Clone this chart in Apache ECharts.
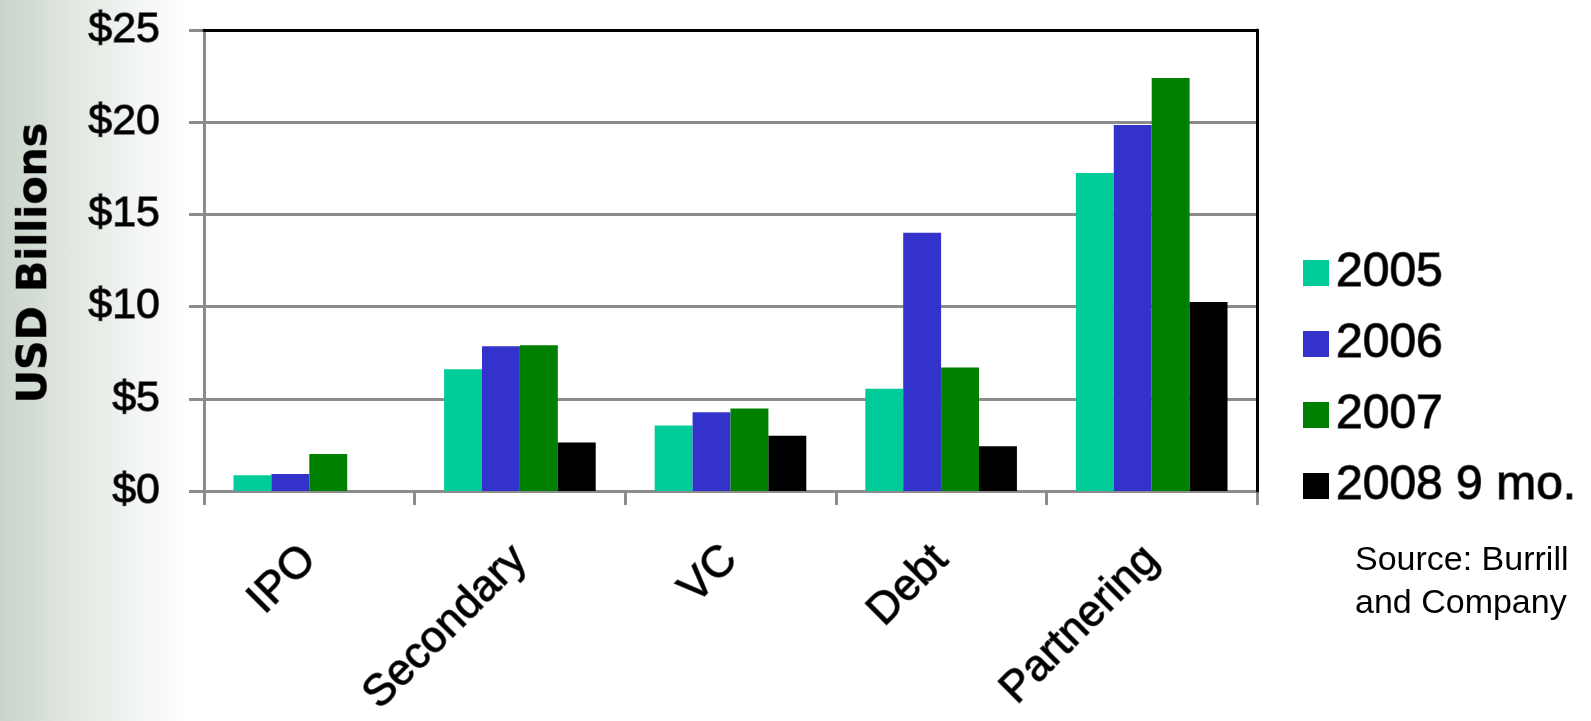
<!DOCTYPE html>
<html>
<head>
<meta charset="utf-8">
<script src="https://cdn.jsdelivr.net/npm/echarts@6/dist/echarts.min.js"></script>
<style>
  html, body { margin: 0; padding: 0; }
  body {
    width: 1591px; height: 721px; overflow: hidden;
    background: linear-gradient(to right, #c8d4ca 0px, #dde4dd 60px, #eef2ee 120px, #ffffff 190px);
  }
  #chart { width: 1591px; height: 721px; }
</style>
</head>
<body>
<div id="chart"></div>
<script>
const categories = ['IPO', 'Secondary', 'VC', 'Debt', 'Partnering'];
const seriesNames = ['2005', '2006', '2007', '2008 9 mo.'];
const values2005 = [0.85, 6.6, 3.55, 5.54, 17.25];
const values2006 = [0.92, 7.85, 4.27, 14.0, 19.85];
const values2007 = [2.0, 7.9, 4.47, 6.7, 22.4];
const values2008 = [null, 2.63, 3.0, 2.43, 10.25];
const yTicks = { min: 0, max: 25, interval: 5 };
const colors = ['#00CC99', '#3333CC', '#008000', '#000000'];

const outline = {
  textBorderColor: 'rgba(40,40,40,0.75)',
  textBorderWidth: 1.4
};

const allValues = [values2005, values2006, values2007, values2008];
const chart = echarts.init(document.getElementById('chart'), null, { renderer: 'canvas' });

const option = {
  backgroundColor: 'transparent',
  animation: false,
  color: colors,
  grid: {
    left: 204, right: 334, top: 30, bottom: 230,
    containLabel: false,
    outerBoundsMode: 'none',
    backgroundColor: '#ffffff', show: true, borderWidth: 0
  },
  legend: {
    orient: 'vertical',
    left: 1303,
    top: 245,
    padding: 0,
    itemWidth: 26,
    itemHeight: 26,
    itemGap: 15,
    itemStyle: { borderWidth: 0 },
    icon: 'rect',
    textStyle: Object.assign({
      fontFamily: 'Liberation Sans, Arial, sans-serif',
      fontSize: 48,
      lineHeight: 56,
      color: '#000',
      padding: [0, 0, 0, 2]
    }, outline),
    data: seriesNames
  },
  xAxis: [
    {
      type: 'category',
      data: categories,
      position: 'bottom',
      axisLine: { lineStyle: { color: '#8c8c8c', width: 3 } },
      axisTick: { show: true, length: 14, lineStyle: { color: '#8c8c8c', width: 3 } },
      axisLabel: Object.assign({
        rotate: 45,
        margin: 62,
        fontFamily: 'Liberation Sans, Arial, sans-serif',
        fontSize: 44,
        color: '#000'
      }, outline)
    },
    {
      type: 'category',
      data: categories,
      position: 'top',
      z: 10,
      axisLine: { onZero: false, lineStyle: { color: '#000', width: 3 } },
      axisTick: { show: false },
      axisLabel: { show: false }
    }
  ],
  yAxis: [
    {
      type: 'value',
      min: yTicks.min,
      max: yTicks.max,
      interval: yTicks.interval,
      axisLine: { show: true, lineStyle: { color: '#8c8c8c', width: 3 } },
      axisTick: { show: true, length: 15, lineStyle: { color: '#8c8c8c', width: 3 } },
      splitLine: { show: true, lineStyle: { color: '#8c8c8c', width: 3 } },
      axisLabel: Object.assign({
        margin: 44,
        fontFamily: 'Liberation Sans, Arial, sans-serif',
        fontSize: 43,
        color: '#000',
        formatter: v => '$' + v
      }, outline)
    },
    {
      type: 'value',
      min: yTicks.min,
      max: yTicks.max,
      interval: yTicks.interval,
      position: 'right',
      z: 10,
      axisLine: { show: true, onZero: false, lineStyle: { color: '#000', width: 3 } },
      axisTick: { show: false },
      axisLabel: { show: false },
      splitLine: { show: false }
    }
  ],
  series: seriesNames.map((name, i) => ({
    name: name,
    type: 'bar',
    data: allValues[i],
    barGap: '0%',
    barCategoryGap: '28%',
    itemStyle: { color: colors[i] },
    z: 1
  })),
  graphic: [
    {
      type: 'text',
      x: 35,
      y: 263,
      rotation: Math.PI / 2,
      style: {
        text: 'USD Billions',
        align: 'center',
        verticalAlign: 'middle',
        font: 'bold 41px "DejaVu Sans", sans-serif',
        fill: '#000',
        stroke: 'rgba(40,40,40,0.6)',
        lineWidth: 1
      }
    },
    {
      type: 'text',
      left: 1355,
      top: 539,
      style: {
        text: 'Source: Burrill\nand Company',
        font: '34px "Liberation Sans", Arial, sans-serif',
        lineHeight: 43,
        fill: '#000'
      }
    }
  ]
};
chart.setOption(option);
</script>
</body>
</html>
